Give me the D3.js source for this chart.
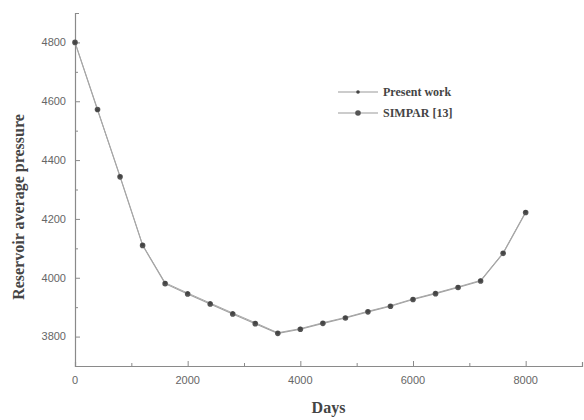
<!DOCTYPE html>
<html>
<head>
<meta charset="utf-8">
<script src="https://cdn.jsdelivr.net/npm/d3@7"></script>
<style>
  body { margin: 0; background: #fff; }
  svg { display: block; }
</style>
</head>
<body>
<div id="chart"></div>
<script>
// Days (x) and reservoir average pressure (y)
const days = [0, 400, 800, 1200, 1600, 2000, 2400, 2800, 3200, 3600, 4000,
              4400, 4800, 5200, 5600, 6000, 6400, 6800, 7200, 7600, 8000];
const presentWork = [4800, 4570, 4345, 4112, 3983, 3948, 3914, 3880, 3847, 3813, 3827,
                     3847, 3865, 3886, 3905, 3928, 3948, 3969, 3991, 4085, 4224];
const simpar = [4800, 4572, 4343, 4110, 3980, 3945, 3911, 3877, 3844, 3811, 3825,
                3845, 3863, 3884, 3903, 3926, 3946, 3967, 3989, 4083, 4222];
const xTicks = [0, 2000, 4000, 6000, 8000];
const yTicks = [3800, 4000, 4200, 4400, 4600, 4800];
const seriesNames = ["Present work", "SIMPAR [13]"];

const W = 584, H = 420;
const margin = {left: 75, right: 582, top: 13, bottom: 366};

const svg = d3.select("#chart").append("svg")
    .attr("width", W)
    .attr("height", H);

const x = d3.scaleLinear().domain([0, 9000]).range([margin.left, margin.right]);
const y = d3.scaleLinear().domain([3700, 4900]).range([margin.bottom, margin.top]);

const axisColor = "#8a8a8a";

// X axis (ticks point inward)
const gx = svg.append("g")
    .attr("transform", "translate(0," + margin.bottom + ")");
gx.call(d3.axisBottom(x).tickValues(d3.range(0, 9001, 1000)).tickSize(-4).tickFormat(""))
    .call(g => g.selectAll(".tick line").attr("y2", d => d % 2000 === 0 ? -5 : -3));
gx.select(".domain").attr("stroke", axisColor).attr("stroke-width", 1.2);
gx.selectAll(".tick line").attr("stroke", axisColor);
gx.selectAll(".tickLabel")
    .data(xTicks)
    .enter().append("text")
    .attr("x", d => x(d))
    .attr("y", 18)
    .attr("text-anchor", "middle")
    .style("font-family", "'Liberation Sans', Arial, sans-serif")
    .style("font-size", "11px")
    .attr("fill", "#666")
    .text(d => d);

// Y axis (ticks point inward)
const gy = svg.append("g")
    .attr("transform", "translate(" + margin.left + ",0)");
gy.call(d3.axisLeft(y).tickValues(d3.range(3700, 4901, 100)).tickSize(-4).tickFormat(""))
    .call(g => g.selectAll(".tick line").attr("x2", d => d % 200 === 0 ? 5 : 3));
gy.select(".domain").attr("stroke", axisColor).attr("stroke-width", 1.2);
gy.selectAll(".tick line").attr("stroke", axisColor);
gy.selectAll(".tickLabel")
    .data(yTicks)
    .enter().append("text")
    .attr("x", -9)
    .attr("y", d => y(d))
    .attr("dy", "0.35em")
    .attr("text-anchor", "end")
    .style("font-family", "'Liberation Sans', Arial, sans-serif")
    .style("font-size", "11px")
    .attr("fill", "#666")
    .text(d => d);

// Lines
const line = d3.line()
    .x((d, i) => x(days[i]))
    .y(d => y(d));

svg.append("path")
    .datum(simpar)
    .attr("fill", "none")
    .attr("stroke", "#a0a0a0")
    .attr("stroke-width", 1.1)
    .attr("d", line);

svg.append("path")
    .datum(presentWork)
    .attr("fill", "none")
    .attr("stroke", "#a8a8a8")
    .attr("stroke-width", 1)
    .attr("d", line);

// Markers: SIMPAR larger dots, Present work small dots
svg.selectAll(".sim")
    .data(simpar)
    .enter().append("circle")
    .attr("cx", (d, i) => x(days[i]))
    .attr("cy", d => y(d))
    .attr("r", 2.8)
    .attr("fill", "#555");

svg.selectAll(".pw")
    .data(presentWork)
    .enter().append("circle")
    .attr("cx", (d, i) => x(days[i]))
    .attr("cy", d => y(d))
    .attr("r", 1.8)
    .attr("fill", "#444");

// Legend
const legend = svg.append("g");
seriesNames.forEach((name, i) => {
    const ly = 92 + i * 21;
    legend.append("line")
        .attr("x1", 338).attr("x2", 378)
        .attr("y1", ly).attr("y2", ly)
        .attr("stroke", "#999").attr("stroke-width", 1);
    legend.append("circle")
        .attr("cx", 358).attr("cy", ly)
        .attr("r", i === 0 ? 1.8 : 2.8)
        .attr("fill", i === 0 ? "#444" : "#555");
    legend.append("text")
        .attr("x", 383)
        .attr("y", ly)
        .attr("dy", "0.35em")
        .style("font-family", "'Liberation Serif', 'Times New Roman', serif")
        .style("font-weight", "bold")
        .style("font-size", "12px")
        .attr("fill", "#444")
        .text(name);
});

// Axis titles
svg.append("text")
    .attr("x", (margin.left + margin.right) / 2)
    .attr("y", 413)
    .attr("text-anchor", "middle")
    .style("font-family", "'Liberation Serif', 'Times New Roman', serif")
    .style("font-weight", "bold")
    .style("font-size", "16px")
    .attr("fill", "#444")
    .text("Days");

svg.append("text")
    .attr("transform", "translate(24,207) rotate(-90)")
    .attr("text-anchor", "middle")
    .style("font-family", "'Liberation Serif', 'Times New Roman', serif")
    .style("font-weight", "bold")
    .style("font-size", "16px")
    .attr("fill", "#444")
    .text("Reservoir average pressure");
</script>
</body>
</html>
